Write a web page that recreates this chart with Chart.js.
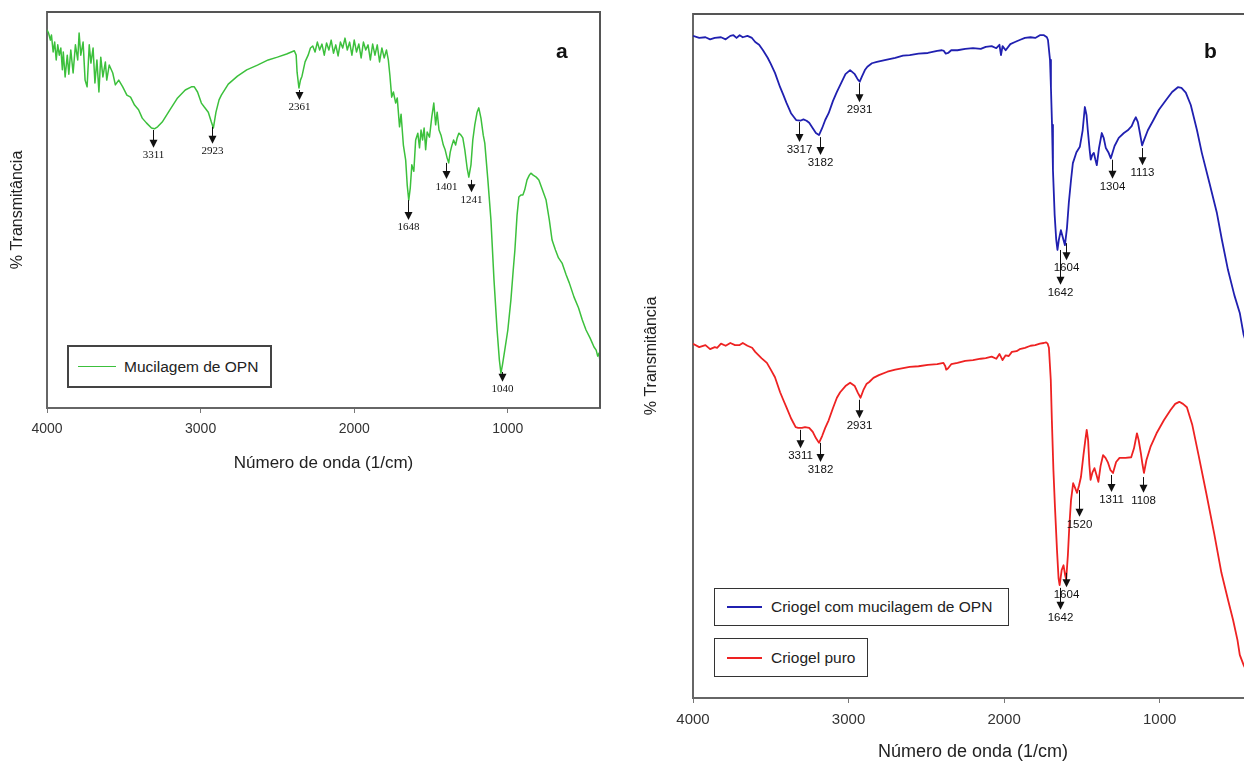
<!DOCTYPE html>
<html lang="pt">
<head>
<meta charset="UTF-8">
<title>Espectros FTIR</title>
<script src="https://cdn.jsdelivr.net/npm/chart.js@4.4.0/dist/chart.umd.min.js"></script>
<style>
    html, body { margin: 0; padding: 0; overflow: hidden; background: #fff; }
    body { width: 1244px; height: 763px; position: relative; font-family: "Liberation Sans", Arial, sans-serif; }
    #chartA { position: absolute; left: 0; top: 0; }
    #chartB { position: absolute; left: 630px; top: 0; }
    .tag { position: absolute; font: bold 21px "Liberation Sans", Arial, sans-serif; color: #111; line-height: 1; }
    .leg { position: absolute; box-sizing: border-box; display: flex; align-items: center; background: #fff; color: #222; white-space: nowrap; }
    .leg .sw { display: inline-block; height: 0; }
</style>
</head>
<body>
<canvas id="chartA" width="620" height="480"></canvas>
<canvas id="chartB" width="640" height="763"></canvas>

<div class="tag" style="left:556px; top:40px;">a</div>
<div class="tag" style="left:1204px; top:40px;">b</div>

<div class="leg" style="left:67px; top:345px; width:205px; height:43px; border:2px solid #444; padding-left:9px; font-size:15.5px;">
    <span class="sw" style="width:38px; border-top:1.5px solid #3cc03c; margin-right:8px;"></span>Mucilagem de OPN
</div>
<div class="leg" style="left:714px; top:588px; width:295px; height:38px; border:1.5px solid #333; padding-left:12px; font-size:15.5px;">
    <span class="sw" style="width:35px; border-top:2px solid #2020b0; margin-right:9px;"></span>Criogel com mucilagem de OPN
</div>
<div class="leg" style="left:714px; top:638px; width:154px; height:39px; border:1.5px solid #333; padding-left:12px; font-size:15.5px;">
    <span class="sw" style="width:35px; border-top:2px solid #ee2222; margin-right:9px;"></span>Criogel puro
</div>

<script>
// tick labels on the wavenumber axis
const xTickValues = [4000, 3000, 2000, 1000];

// (a) Mucilagem de OPN
const wnMucilagem = [4000,3990,3978,3971,3960,3950,3940,3930,3920,3910,3900,3894,3882,3868,3858,3845,3830,3815,3800,3791,
    3780,3765,3752,3739,3725,3714,3700,3688,3675,3662,3650,3636,3620,3611,3595,3572,3555,3533,3507,3480,
    3456,3430,3404,3380,3353,3320,3301,3280,3250,3200,3150,3100,3060,3041,3020,2995,2976,2950,2930,2917,
    2900,2880,2865,2820,2760,2700,2630,2560,2500,2440,2390,2378,2372,2360,2350,2340,2320,2300,2285,2270,
    2255,2240,2225,2210,2195,2180,2165,2150,2135,2120,2105,2090,2075,2060,2045,2030,2015,2000,1985,1970,
    1955,1940,1925,1910,1895,1880,1865,1850,1835,1820,1805,1790,1778,1768,1756,1745,1730,1720,1705,1695,
    1680,1665,1655,1645,1635,1625,1612,1600,1586,1575,1565,1555,1545,1535,1525,1510,1495,1482,1470,1460,
    1448,1435,1420,1408,1395,1385,1375,1365,1353,1340,1330,1319,1305,1293,1280,1265,1254,1240,1228,1215,
    1200,1189,1175,1160,1150,1130,1110,1090,1070,1055,1045,1035,1020,1000,980,965,954,940,928,915,
    902,890,875,860,850,835,815,798,775,751,730,712,690,670,647,620,600,569,540,515,
    491,465,439,425,415,406,400];
const tMucilagem = [95.5,94.7,92.9,94.2,89.9,92.4,87.9,91.7,89.1,90.9,85.4,89.9,83.6,89.1,84.3,90.4,84.6,91.7,87.9,94.7,
    89.1,92.4,82.8,81.1,91.7,87.1,90.9,82.1,87.9,79.8,88.6,83.6,87.4,82.8,86.6,84.6,81.6,82.8,81.1,79.0,
    78.5,76.5,75.3,73.2,72.0,70.7,70.5,71.0,72.2,75.3,78.3,80.3,81.1,81.1,79.8,77.0,76.0,74.7,72.2,70.7,
    74.7,77.8,79.0,81.8,83.8,85.4,86.6,87.9,88.6,89.4,90.2,89.1,84.8,80.8,82.8,83.8,87.4,89.1,90.9,91.4,
    89.9,92.4,90.4,91.9,89.1,92.2,90.4,92.9,89.6,91.7,88.9,92.4,90.9,93.4,90.4,92.4,89.1,92.9,89.9,91.9,
    88.4,92.4,90.4,91.7,87.9,91.9,89.1,91.7,87.4,90.9,88.4,90.4,87.9,84.1,78.5,79.8,77.0,78.3,71.0,74.2,
    66.4,62.6,56.3,52.5,55.6,61.4,59.8,67.7,69.4,65.7,70.2,67.7,70.7,65.2,69.7,68.4,73.5,77.0,71.5,74.7,
    70.2,68.9,66.4,65.2,63.1,61.9,64.6,66.2,67.7,66.4,68.2,69.4,68.9,68.2,65.2,60.6,58.3,61.4,67.7,71.5,
    74.7,75.8,73.2,68.9,66.9,57.6,47.5,32.3,19.7,12.1,8.8,10.9,14.6,19.7,27.3,34.8,39.9,48.7,53.3,53.8,
    53.8,55.1,57.6,58.8,59.3,58.8,58.3,57.6,55.1,52.5,47.5,42.4,39.9,37.9,36.6,33.6,31.6,28.0,25.3,22.2,
    19.7,17.7,15.4,14.6,13.1,13.9,11.6];

// (b) Criogel com mucilagem de OPN
const wnCriogelOPN = [4000,3960,3920,3890,3860,3820,3790,3760,3740,3720,3700,3680,3650,3621,3600,3575,3550,3520,3500,3473,
    3440,3420,3399,3370,3337,3310,3290,3270,3253,3230,3210,3190,3170,3150,3128,3100,3075,3054,3020,2990,
    2960,2940,2928,2915,2895,2879,2850,2818,2760,2700,2650,2607,2550,2490,2430,2400,2387,2375,2360,2340,
    2300,2250,2200,2150,2118,2080,2050,2030,2020,2010,1990,1960,1930,1900,1866,1830,1800,1770,1744,1725,
    1718,1705,1699,1692,1686,1675,1665,1657,1648,1635,1622,1609,1596,1584,1570,1558,1535,1513,1495,1481,
    1470,1462,1450,1443,1433,1423,1413,1404,1390,1372,1360,1346,1330,1314,1290,1263,1230,1205,1180,1165,
    1153,1140,1127,1113,1100,1076,1040,1005,960,920,883,860,832,800,760,729,680,632,600,561,
    520,485,460,430,400];
const tCriogelOPN = [96.8,96.5,96.6,96.3,96.5,96.6,96.3,96.8,96.9,96.5,96.9,96.6,96.8,96.5,95.9,95.5,94.7,93.6,92.7,91.4,
    89.3,88.2,87.0,85.5,84.5,84.4,84.6,84.4,84.1,83.3,82.6,82.3,83.3,84.5,85.5,87.3,88.6,89.6,91.2,91.8,
    91.2,90.4,90.1,90.8,91.8,92.3,92.8,93.0,93.3,93.6,93.9,94.0,94.2,94.3,94.6,94.7,94.6,94.2,94.3,94.7,
    94.7,94.9,95.0,94.9,95.2,95.3,95.0,95.5,94.0,95.3,94.7,95.6,95.9,96.2,96.5,96.6,96.5,96.9,96.9,96.6,
    96.2,93.3,89.3,83.8,77.2,70.6,67.0,65.5,67.0,68.4,67.3,66.2,68.7,72.4,75.7,78.2,79.8,80.6,83.0,86.4,
    85.2,83.0,80.1,78.7,79.4,79.7,78.7,77.9,80.4,82.6,81.9,80.4,79.8,78.9,80.7,81.9,82.6,83.0,83.6,84.4,
    84.9,84.2,82.6,80.8,81.6,83.0,84.5,86.0,87.4,88.6,89.3,89.2,88.5,86.7,83.0,79.7,75.3,70.9,67.0,62.6,
    58.9,56.3,53.1,50.9,48.7];

// (b) Criogel puro
const wnCriogelPuro = [4000,3960,3920,3890,3860,3845,3820,3790,3760,3730,3700,3680,3650,3620,3600,3560,3525,3500,3473,3440,
    3420,3399,3370,3340,3324,3300,3280,3253,3230,3210,3190,3170,3150,3128,3100,3075,3054,3020,2990,2960,
    2940,2923,2905,2885,2867,2840,2805,2750,2700,2607,2550,2490,2430,2390,2378,2372,2360,2340,2300,2250,
    2200,2150,2118,2080,2050,2030,2010,1990,1970,1950,1920,1900,1866,1830,1800,1770,1745,1730,1720,1712,
    1700,1693,1683,1673,1660,1650,1643,1630,1618,1608,1601,1590,1581,1570,1556,1545,1531,1518,1506,1490,
    1478,1469,1460,1452,1444,1432,1419,1406,1394,1380,1364,1348,1332,1316,1300,1280,1258,1220,1183,1165,
    1146,1135,1121,1110,1101,1085,1059,1020,973,930,900,874,850,825,790,750,701,650,603,560,
    528,500,485,460,430,400];
const tCriogelPuro = [51.8,51.3,51.6,51.0,51.3,51.2,51.8,51.5,51.9,51.6,51.6,51.9,51.5,51.2,50.6,49.7,49.0,48.0,46.9,44.7,
    43.6,42.5,40.9,39.6,39.5,39.5,39.6,39.5,38.9,38.0,37.3,38.3,39.5,40.6,42.4,43.9,44.7,45.6,46.1,45.6,
    44.6,43.9,45.0,45.9,46.2,46.8,47.2,47.7,48.0,48.4,48.5,48.7,48.8,49.0,48.5,48.0,48.2,48.8,49.0,49.3,
    49.4,49.6,49.7,49.9,49.6,50.3,49.4,50.1,50.0,50.6,50.7,51.0,51.2,51.5,51.6,51.8,51.9,52.0,51.8,51.2,
    46.5,40.6,33.3,27.9,21.6,17.5,16.5,18.7,19.4,18.0,17.3,20.9,25.0,28.9,31.4,30.8,30.0,31.1,32.3,35.5,
    37.7,39.2,37.7,34.1,31.9,33.0,33.6,32.6,31.6,33.9,35.5,35.1,34.4,33.3,32.9,34.5,35.1,35.1,35.2,36.5,
    38.7,37.7,35.8,34.1,32.9,34.8,36.7,38.7,40.6,42.1,43.0,43.3,43.0,42.5,39.9,35.5,30.0,24.1,18.3,14.3,
    11.4,8.5,6.3,4.8,3.4,1.9];

// labelled bands: arrow from the curve (from) down to its tip (to)
const peaksMucilagem = [3311, 2923, 2361, 1648, 1401, 1241, 1040];
const peaksMucilagemFrom = [70.2, 71.0, 80.3, 52.5, 61.9, 57.6, 9.1];
const peaksMucilagemTo = [65.7, 66.7, 77.8, 47.5, 57.8, 54.5, 6.6];

const peaksCriogelOPN = [3317, 3182, 2931, 1642, 1604, 1304, 1113];
const peaksCriogelOPNFrom = [84.2, 82.0, 89.9, 65.5, 66.5, 78.7, 80.4];
const peaksCriogelOPNTo = [81.3, 79.4, 87.1, 60.4, 64.0, 75.9, 77.9];

const peaksCriogelPuro = [3311, 3182, 2931, 1642, 1604, 1520, 1311, 1108];
const peaksCriogelPuroFrom = [39.2, 37.3, 43.6, 16.1, 18.3, 30.4, 32.6, 32.3];
const peaksCriogelPuroTo = [36.5, 34.5, 40.9, 12.9, 16.2, 26.5, 30.1, 30.0];

const toPoints = (xs, ys) => xs.map((x, i) => ({ x: x, y: ys[i] }));

// arrows + wavenumber labels, placed through the chart scales
function arrowPlugin(sets, font) {
    return {
        id: 'arrows',
        afterDatasetsDraw(chart) {
            const ctx = chart.ctx;
            const xs = chart.scales.x, ys = chart.scales.y;
            ctx.save();
            ctx.fillStyle = '#111';
            ctx.strokeStyle = '#111';
            ctx.lineWidth = 1;
            ctx.font = font;
            ctx.textAlign = 'center';
            ctx.textBaseline = 'top';
            sets.forEach(s => {
                s.labels.forEach((wn, i) => {
                    const px = Math.round(xs.getPixelForValue(wn)) + 0.5;
                    const y0 = ys.getPixelForValue(s.from[i]);
                    const y1 = ys.getPixelForValue(s.to[i]);
                    ctx.beginPath();
                    ctx.moveTo(px, y0);
                    ctx.lineTo(px, y1 - 6);
                    ctx.stroke();
                    ctx.beginPath();
                    ctx.moveTo(px - 4, y1 - 8);
                    ctx.lineTo(px + 4, y1 - 8);
                    ctx.lineTo(px, y1);
                    ctx.closePath();
                    ctx.fill();
                    ctx.fillText(String(wn), px, y1 + 2);
                });
            });
            ctx.restore();
        }
    };
}

// top / right edges of the plot box
function framePlugin(drawRight) {
    return {
        id: 'frame',
        afterDraw(chart) {
            const { ctx, chartArea: a } = chart;
            ctx.save();
            ctx.strokeStyle = '#555';
            ctx.lineWidth = 2;
            ctx.beginPath();
            ctx.moveTo(a.left, a.top);
            ctx.lineTo(a.right, a.top);
            if (drawRight) ctx.lineTo(a.right, a.bottom);
            ctx.stroke();
            ctx.restore();
        }
    };
}

function makeOptions(cfg) {
    return {
        responsive: false,
        animation: false,
        layout: { padding: { top: cfg.top, right: cfg.right, left: 0, bottom: 0 } },
        plugins: { legend: { display: false }, tooltip: { enabled: false } },
        elements: { point: { radius: 0 }, line: { tension: 0, borderJoinStyle: 'round' } },
        scales: {
            x: {
                type: 'linear',
                reverse: true,
                min: 400,
                max: 4000,
                afterBuildTicks: s => { s.ticks = xTickValues.map(v => ({ value: v })); },
                afterFit: s => { s.height = cfg.xHeight; },
                ticks: {
                    callback: v => String(v),
                    color: '#333',
                    font: { family: 'Liberation Sans', size: cfg.tickSize },
                    padding: cfg.tickPad,
                    maxRotation: 0,
                    autoSkip: false
                },
                grid: { display: true, drawOnChartArea: false, drawTicks: true, tickLength: 5, color: '#777' },
                border: { display: true, color: '#666', width: 2 },
                title: {
                    display: true,
                    text: 'Número de onda (1/cm)',
                    color: '#222',
                    font: { family: 'Liberation Sans', size: cfg.titleSize },
                    padding: { top: 0, bottom: cfg.xTitlePad }
                }
            },
            y: {
                min: 0,
                max: 100,
                afterFit: s => { s.width = cfg.yWidth; },
                ticks: { display: false },
                grid: { display: false },
                border: { display: true, color: '#666', width: 2 },
                title: {
                    display: true,
                    text: '% Transmitância',
                    color: '#222',
                    font: { family: 'Liberation Sans', size: 16 },
                    padding: { top: cfg.yTitlePad, bottom: 0 }
                }
            }
        }
    };
}

new Chart(document.getElementById('chartA'), {
    type: 'line',
    data: {
        datasets: [{
            label: 'Mucilagem de OPN',
            data: toPoints(wnMucilagem, tMucilagem),
            borderColor: '#3cc03c',
            borderWidth: 1.5
        }]
    },
    options: makeOptions({ top: 12, right: 20, xHeight: 72, yWidth: 47, tickSize: 14, tickPad: 7.5,
        titleSize: 17, xTitlePad: 6.5, yTitlePad: 7.5 }),
    plugins: [
        framePlugin(true),
        arrowPlugin([{ labels: peaksMucilagem, from: peaksMucilagemFrom, to: peaksMucilagemTo }],
            '11px "Liberation Serif", "Times New Roman", serif')
    ]
});

new Chart(document.getElementById('chartB'), {
    type: 'line',
    data: {
        datasets: [{
            label: 'Criogel com mucilagem de OPN',
            data: toPoints(wnCriogelOPN, tCriogelOPN),
            borderColor: '#2020b0',
            borderWidth: 1.8
        }, {
            label: 'Criogel puro',
            data: toPoints(wnCriogelPuro, tCriogelPuro),
            borderColor: '#ee2222',
            borderWidth: 1.8
        }]
    },
    options: makeOptions({ top: 14, right: 17, xHeight: 65, yWidth: 63, tickSize: 15, tickPad: 8,
        titleSize: 18, xTitlePad: 0, yTitlePad: 11.5 }),
    plugins: [
        framePlugin(false),
        arrowPlugin([
            { labels: peaksCriogelOPN, from: peaksCriogelOPNFrom, to: peaksCriogelOPNTo },
            { labels: peaksCriogelPuro, from: peaksCriogelPuroFrom, to: peaksCriogelPuroTo }
        ], '11.5px "Liberation Sans", Arial, sans-serif')
    ]
});
</script>
</body>
</html>
